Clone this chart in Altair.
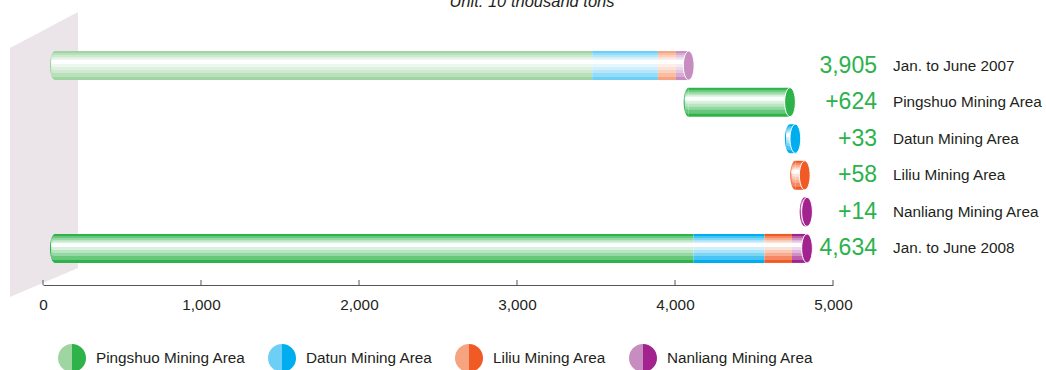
import altair as alt
import pandas as pd

# ---------------- data ----------------
series = ["Pingshuo Mining Area", "Datun Mining Area", "Liliu Mining Area", "Nanliang Mining Area"]
values_2007 = [3310, 405, 111, 79]
increments = [624, 33, 58, 14]
values_2008 = [3934, 438, 169, 93]
row_labels = ["Jan. to June 2007", "Pingshuo Mining Area", "Datun Mining Area",
              "Liliu Mining Area", "Nanliang Mining Area", "Jan. to June 2008"]
axis_ticks = [0, 1000, 2000, 3000, 4000, 5000]
title_text = "Unit: 10 thousand tons"

# ---------------- styles ----------------
dark_colors = ["#2db34a", "#00aeef", "#f15a24", "#a3238e"]
light_colors = ["#9fd5a1", "#6dcff6", "#f6a47f", "#c88dc0"]
FONT = "Liberation Sans"
TEXT = "#231f20"
GREEN = "#2bb24c"

dark_keys = [f"{s}|dark" for s in series]
light_keys = [f"{s}|light" for s in series]

segs = []
cum = 0
for s, v in zip(series, values_2007):
    segs.append(dict(row=row_labels[0], start=cum, end=cum + v, key=f"{s}|light"))
    cum += v
for i, (s, v) in enumerate(zip(series, increments)):
    segs.append(dict(row=row_labels[i + 1], start=cum, end=cum + v, key=f"{s}|dark"))
    cum += v
cum = 0
for s, v in zip(series, values_2008):
    segs.append(dict(row=row_labels[5], start=cum, end=cum + v, key=f"{s}|dark"))
    cum += v
seg_df = pd.DataFrame(segs)
rows_df = (seg_df.groupby("row", sort=False)
           .agg(start=("start", "min"), end=("end", "max"),
                first=("key", "first"), last=("key", "last"))
           .reset_index())

value_text = [f"{sum(values_2007):,}"] + [f"+{v}" for v in increments] + [f"{sum(values_2008):,}"]
labels_df = pd.DataFrame({"row": row_labels, "value": value_text})

# ---------------- shapes ----------------
LCAP = "M0,-1 A0.35,1 0 0,0 0,1 Z"
ELLIPSE = "M0,-1 A0.37,1 0 1,1 0,1 A0.37,1 0 1,1 0,-1 Z"
LEFT_HALF = "M0,-1 A1,1 0 0,0 0,1 Z"
RIGHT_HALF = "M0,-1 A1,1 0 0,1 0,1 Z"
PANEL = "M-0.2386,-0.747 L0.2386,-1 L0.2386,0.796 L-0.2386,1 Z"

W, H = 790, 256
xb = alt.Scale(domain=[-74, 4794])
yrow = alt.Y("row:N", scale=alt.Scale(type="point", domain=row_labels, padding=1), axis=None)
color_scale = alt.Scale(domain=dark_keys + light_keys, range=dark_colors + light_colors)


def legend(symbol, values, label_opacity):
    return alt.Legend(title=None, orient="none", legendX=15, legendY=315,
                      direction="horizontal", columns=4, symbolType=symbol,
                      symbolSize=784, symbolStrokeWidth=0, symbolOpacity=1,
                      labelExpr="split(datum.label, '|')[0]", labelFont=FONT,
                      labelFontSize=15.3, labelColor=TEXT, labelOffset=10,
                      labelOpacity=label_opacity,
                      columnPadding=22, padding=0, values=values)


dark_legend = legend(RIGHT_HALF, dark_keys, 1)

panel = alt.Chart(alt.Data(values=[{"p": 1}])).mark_point(
    shape=PANEL, filled=True, size=285 ** 2, color="#ebe5ea", opacity=1, strokeWidth=0
).encode(x=alt.value(1), y=alt.value(125.5))

legend_light = alt.Chart(pd.DataFrame({"lk": light_keys})).mark_point(
    filled=True, opacity=0
).encode(fill=alt.Fill("lk:N", scale=alt.Scale(domain=light_keys, range=light_colors),
                       legend=legend(LEFT_HALF, light_keys, 0)))

left_caps = alt.Chart(rows_df).mark_point(
    shape=LCAP, filled=True, size=841, opacity=1, strokeWidth=0
).encode(x=alt.X("start:Q", scale=xb, axis=None), y=yrow,
         color=alt.Color("first:N", scale=color_scale, legend=dark_legend))

bars = alt.Chart(seg_df).mark_bar(height=29).encode(
    x=alt.X("start:Q", scale=xb, axis=None), x2="end:Q", y=yrow,
    color=alt.Color("key:N", scale=color_scale, legend=dark_legend))

stripes = [(24, -0.5, 0.28), (18, -1.5, 0.3), (13, -2, 0.35), (8.5, -2.75, 0.45), (4, -3.5, 0.92)]
overlays = [
    alt.Chart(rows_df).mark_bar(height=h, yOffset=o, color="white", opacity=a, xOffset=-4,
                                cornerRadiusTopLeft=3, cornerRadiusBottomLeft=3).encode(
        x=alt.X("start:Q", scale=xb, axis=None), x2="end:Q", y=yrow)
    for h, o, a in stripes
]

right_caps = alt.Chart(rows_df).mark_point(
    shape=ELLIPSE, filled=True, size=841, opacity=1, stroke="white", strokeWidth=1
).encode(x=alt.X("end:Q", scale=xb, axis=None), y=yrow,
         color=alt.Color("last:N", scale=color_scale, legend=dark_legend))

values_txt = alt.Chart(labels_df).mark_text(
    align="right", baseline="middle", font=FONT, fontSize=23, color=GREEN
).encode(x=alt.value(834), y=yrow, text="value:N")

cats_txt = alt.Chart(labels_df).mark_text(
    align="left", baseline="middle", font=FONT, fontSize=15.3, color=TEXT
).encode(x=alt.value(850), y=yrow, text="row:N")

title = alt.Chart(alt.Data(values=[{"t": title_text}])).mark_text(
    align="center", baseline="alphabetic", font=FONT, fontStyle="italic", fontSize=16.5, color=TEXT
).encode(x=alt.value(489), y=alt.value(-22), text="t:N")

axis_layer = alt.Chart(pd.DataFrame({"v": axis_ticks})).mark_rule(color="#555555", strokeWidth=1).encode(
    x=alt.X("v:Q", scale=alt.Scale(domain=[0, 5000]),
            axis=alt.Axis(values=axis_ticks, format=",d", ticks=False, tickSize=0, labelPadding=12,
                          labelFlush=False, labelOverlap=False, labelFont=FONT, labelFontSize=15.3,
                          labelColor=TEXT, domainColor="#555555", domainWidth=1, grid=False, title=None)),
    y=alt.value(H - 5), y2=alt.value(H))

chart = alt.layer(
    panel, legend_light, left_caps, bars, *overlays, right_caps, values_txt, cats_txt, title, axis_layer
).resolve_scale(x="independent").properties(
    width=W, height=H,
    autosize=alt.AutoSizeParams(type="none"),
    padding={"left": 43, "top": 29, "right": 213, "bottom": 85},
).configure(font=FONT, background="white").configure_view(stroke=None)

chart.save("out.html", embed_options={"renderer": "svg", "actions": False})
